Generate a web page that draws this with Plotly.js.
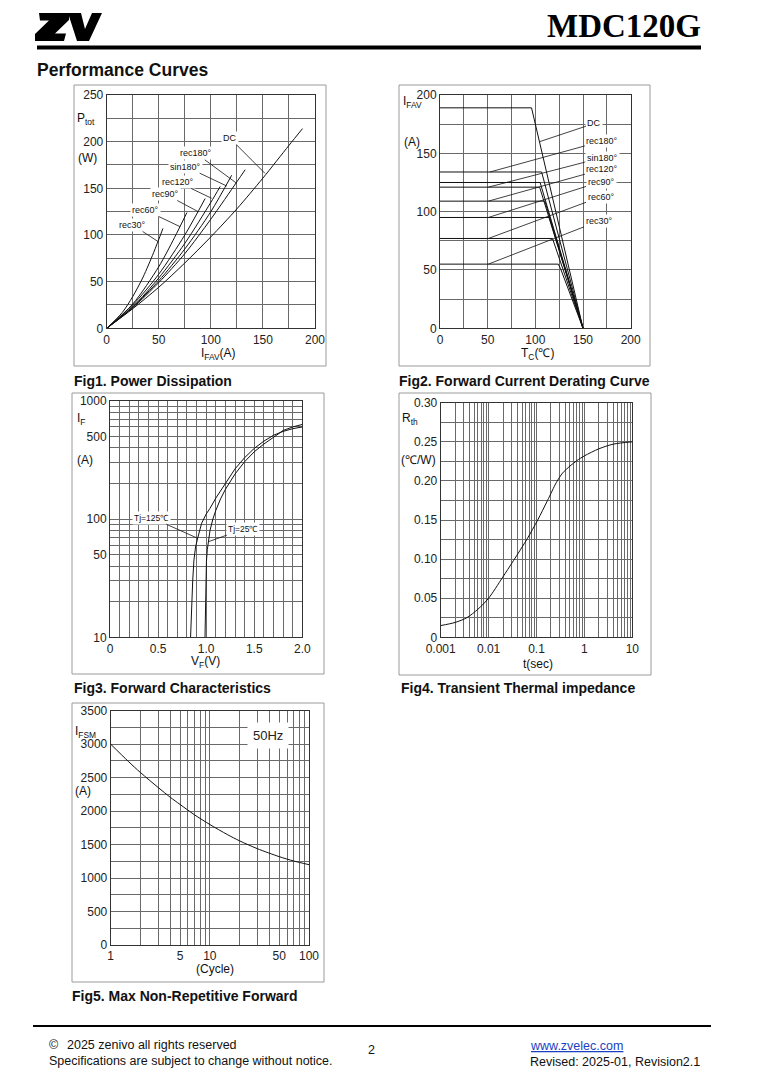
<!DOCTYPE html>
<html><head><meta charset="utf-8">
<script src="https://cdn.plot.ly/plotly-3.0.1.min.js"></script>
<style>html,body{margin:0;padding:0;background:#fff}#chart{width:763px;height:1080px}</style>
</head><body><div id="chart"></div>
<script>
// ---------------- DATA ----------------
// Fig1 Power dissipation (I_FAV [A] -> P_tot [W])
const fig1_DC_I = [0,25,50,75,100,125,150,175,188];
const fig1_DC_P = [0,21,44,70,98,128,161,196,214];
const fig1_rec180_I = [0,25,50,75,100,125,133];
const fig1_rec180_P = [0,22,49,80,117,157,170];
const fig1_sin180_I = [0,25,50,75,100,120];
const fig1_sin180_P = [0,23,51,85,125,164];
const fig1_rec120_I = [0,25,50,75,100,109];
const fig1_rec120_P = [0,23,54,91,135,152];
const fig1_rec90_I = [0,25,50,75,94.5];
const fig1_rec90_P = [0,25,58,100,139];
const fig1_rec60_I = [0,25,50,65,77];
const fig1_rec60_P = [0,26,66,97,124];
const fig1_rec30_I = [0,15,25,35,45,54];
const fig1_rec30_P = [0,17,34,55,81,107];

// Fig2 Forward current derating (T_C [°C] -> I_FAV [A])
const fig2_DC_T = [0,96,150];         const fig2_DC_I = [189,189,0];
const fig2_rec180_T = [0,106.6,150];  const fig2_rec180_I = [134,134,0];
const fig2_l125_T = [0,105,150];      const fig2_l125_I = [125,125,0];
const fig2_sin180_T = [0,104.5,150];  const fig2_sin180_I = [121,121,0];
const fig2_rec120_T = [0,110,150];    const fig2_rec120_I = [109,109,0];
const fig2_rec90_T = [0,114.7,150];   const fig2_rec90_I = [95,95,0];
const fig2_rec60_T = [0,118,150];     const fig2_rec60_I = [77,77,0];
const fig2_rec30_T = [0,124,126.5,150]; const fig2_rec30_I = [55,55,51,0];

// Fig3 Forward characteristics (V_F [V] -> I_F [A])
const fig3_T125_V = [0.838,0.843,0.85,0.86,0.873,0.89,0.912,0.93,0.953,1.0,1.04,1.1,1.18,1.3,1.4,1.5,1.6,1.7,1.8,1.9,2.0];
const fig3_T125_I = [10,14,20,30,45,58,69,80,92,110,123,150,188,265,330,395,455,510,550,580,600];
const fig3_T25_V = [0.988,0.99,0.993,0.997,1.003,1.012,1.023,1.04,1.07,1.1,1.15,1.2,1.3,1.4,1.5,1.6,1.7,1.8,1.9,2.0];
const fig3_T25_I = [10,15,22,32,44,55,65,80,100,118,148,178,240,305,370,430,490,560,600,630];

// Fig4 Transient thermal impedance (t [s] -> R_th [°C/W])
const fig4_t = [0.001,0.002,0.0035,0.006,0.01,0.0193,0.033,0.064,0.106,0.17,0.26,0.35,0.5,0.7,1,2,4,10];
const fig4_R = [0.015,0.019,0.025,0.036,0.050,0.076,0.098,0.126,0.150,0.175,0.198,0.210,0.219,0.226,0.232,0.241,0.247,0.250];

// Fig5 Max non-repetitive forward surge (cycles -> I_FSM [A])
const fig5_n = [1,1.5,2,3,4,5,7,10,15,20,30,50,70,100];
const fig5_I = [3000,2745,2575,2355,2205,2100,1945,1800,1650,1555,1440,1320,1255,1200];

// Tick values / labels
const fig1_xt = [0,25,50,75,100,125,150,175,200];
const fig1_xl = ['0','','50','','100','','150','','200'];
const fig1_yt = [0,25,50,75,100,125,150,175,200,225,250];
const fig1_yl = ['0','','50','','100','','150','','200','','250'];
const fig2_xt = [0,25,50,75,100,125,150,175,200];
const fig2_xl = ['0','','50','','100','','150','','200'];
const fig2_yt = [0,25,50,75,100,125,150,175,200];
const fig2_yl = ['0','','50','','100','','150','','200'];
const fig3_xt = [0,0.1,0.2,0.3,0.4,0.5,0.6,0.7,0.8,0.9,1.0,1.1,1.2,1.3,1.4,1.5,1.6,1.7,1.8,1.9,2.0];
const fig3_xl = ['0','','','','','0.5','','','','','1.0','','','','','1.5','','','','','2.0'];
const fig3_yt = [10,20,30,40,50,60,70,80,90,100,200,300,400,500,600,700,800,900,1000];
const fig3_yl = ['10','','','','50','','','','','100','','','','500','','','','','1000'];
const fig4_xt = [0.001,0.002,0.003,0.004,0.005,0.006,0.007,0.008,0.009,0.01,0.02,0.03,0.04,0.05,0.06,0.07,0.08,0.09,0.1,0.2,0.3,0.4,0.5,0.6,0.7,0.8,0.9,1,2,3,4,5,6,7,8,9,10];
const fig4_xl = ['0.001','','','','','','','','','0.01','','','','','','','','','0.1','','','','','','','','','1','','','','','','','','','10'];
const fig4_yt = [0,0.025,0.05,0.075,0.1,0.125,0.15,0.175,0.2,0.225,0.25,0.275,0.3];
const fig4_yl = ['0','','0.05','','0.10','','0.15','','0.20','','0.25','','0.30'];
const fig5_xt = [1,2,3,4,5,6,7,8,9,10,20,30,40,50,60,70,80,90,100];
const fig5_xl = ['1','','','','5','','','','','10','','','','50','','','','','100'];
const fig5_yt = [0,250,500,750,1000,1250,1500,1750,2000,2250,2500,2750,3000,3250,3500];
const fig5_yl = ['0','','500','','1000','','1500','','2000','','2500','','3000','','3500'];

// ---------------- BUILD ----------------
const W = 763, H = 1080;
const fx = x => x / W, fy = y => 1 - y / H;
const SANS = 'Liberation Sans, Arial, sans-serif';

function tr(x, y, n, shape) {
  return {x: x, y: y, xaxis: 'x' + (n > 1 ? n : ''), yaxis: 'y' + (n > 1 ? n : ''),
    mode: 'lines', line: {color: '#111', width: 1, shape: shape || 'linear', smoothing: 0.8},
    hoverinfo: 'skip', showlegend: false};
}
const data = [
  tr(fig1_DC_I, fig1_DC_P, 1, 'spline'), tr(fig1_rec180_I, fig1_rec180_P, 1, 'spline'),
  tr(fig1_sin180_I, fig1_sin180_P, 1, 'spline'), tr(fig1_rec120_I, fig1_rec120_P, 1, 'spline'),
  tr(fig1_rec90_I, fig1_rec90_P, 1, 'spline'), tr(fig1_rec60_I, fig1_rec60_P, 1, 'spline'),
  tr(fig1_rec30_I, fig1_rec30_P, 1, 'spline'),
  tr(fig2_DC_T, fig2_DC_I, 2), tr(fig2_rec180_T, fig2_rec180_I, 2), tr(fig2_l125_T, fig2_l125_I, 2),
  tr(fig2_sin180_T, fig2_sin180_I, 2), tr(fig2_rec120_T, fig2_rec120_I, 2), tr(fig2_rec90_T, fig2_rec90_I, 2),
  tr(fig2_rec60_T, fig2_rec60_I, 2), tr(fig2_rec30_T, fig2_rec30_I, 2),
  tr(fig3_T125_V, fig3_T125_I, 3), tr(fig3_T25_V, fig3_T25_I, 3),
  tr(fig4_t, fig4_R, 4, 'spline'),
  tr(fig5_n, fig5_I, 5, 'spline')
];

function ax(d0, d1, isY, anchor, vals, texts, extra) {
  return Object.assign({
    domain: isY ? [fy(d1), fy(d0)] : [fx(d0), fx(d1)], anchor: anchor,
    showline: true, mirror: true, linecolor: '#333', linewidth: 1,
    showgrid: true, gridcolor: '#6a6a6a', gridwidth: 1, zeroline: false,
    ticks: '', tickmode: 'array', tickvals: vals, ticktext: texts,
    tickfont: {family: SANS, size: 12, color: '#222'}, fixedrange: true
  }, extra || {});
}

const layout = {
  width: W, height: H, margin: {l: 0, r: 0, t: 0, b: 0},
  paper_bgcolor: '#fff', plot_bgcolor: '#fff', showlegend: false, hovermode: false,
  xaxis:  ax(106.7, 315, false, 'y', fig1_xt, fig1_xl, {range: [0, 200]}),
  yaxis:  ax(95, 328.3, true, 'x', fig1_yt, fig1_yl, {range: [0, 250]}),
  xaxis2: ax(440, 630.7, false, 'y2', fig2_xt, fig2_xl, {range: [0, 200]}),
  yaxis2: ax(95, 328.3, true, 'x2', fig2_yt, fig2_yl, {range: [0, 200]}),
  xaxis3: ax(110, 302.3, false, 'y3', fig3_xt, fig3_xl, {range: [0, 2]}),
  yaxis3: ax(400.7, 637.3, true, 'x3', fig3_yt, fig3_yl, {type: 'log', range: [1, 3]}),
  xaxis4: ax(440.7, 632.3, false, 'y4', fig4_xt, fig4_xl, {type: 'log', range: [-3, 1]}),
  yaxis4: ax(402.7, 637.3, true, 'x4', fig4_yt, fig4_yl, {range: [0, 0.3]}),
  xaxis5: ax(110.7, 309, false, 'y5', fig5_xt, fig5_xl, {type: 'log', range: [0, 2]}),
  yaxis5: ax(710.7, 945, true, 'x5', fig5_yt, fig5_yl, {range: [0, 3500]}),
  shapes: [], annotations: []
};

// page decorations
function rectPx(x0, y0, x1, y1, opt) {
  return Object.assign({type: 'rect', xref: 'paper', yref: 'paper', x0: fx(x0), x1: fx(x1), y0: fy(y1), y1: fy(y0),
    line: {color: '#9a9a9a', width: 1}}, opt || {});
}
function pathPx(pts) {
  return pts.map((p, i) => (i ? 'L' : 'M') + fx(p[0]).toFixed(5) + ',' + fy(p[1]).toFixed(5)).join(' ') + ' Z';
}
layout.shapes.push(
  rectPx(74, 85, 326, 366), rectPx(399, 85, 650, 366),
  rectPx(72, 393, 324, 674), rectPx(399, 393, 651, 675),
  rectPx(72, 703, 324, 982),
  rectPx(37, 45.5, 701, 49.5, {fillcolor: '#000', line: {width: 0}}),
  rectPx(33, 1025, 711, 1027, {fillcolor: '#000', line: {width: 0}}),
  {type: 'path', xref: 'paper', yref: 'paper', fillcolor: '#000', line: {width: 0},
   path: pathPx([[39,13],[69,13],[69,20],[55,33.5],[66,33.5],[64,41],[35,41],[35,34],[49,20.5],[40,20.5]])},
  {type: 'path', xref: 'paper', yref: 'paper', fillcolor: '#000', line: {width: 0},
   path: pathPx([[68,13],[81,13],[85,29],[92,13],[102,13],[89,41],[77,41]])}
);

function txt(text, x, y, opt) {
  return Object.assign({text: text, x: fx(x), y: fy(y), xref: 'paper', yref: 'paper', showarrow: false,
    xanchor: 'left', yanchor: 'middle', borderpad: 0, font: {family: SANS, size: 12, color: '#111'}}, opt || {});
}
const A = layout.annotations;
const CAP = {family: SANS, size: 14, color: '#111'};
const FOOT = {family: SANS, size: 12.5, color: '#111'};
A.push(
  txt('<b>MDC120G</b>', 702, 26, {xanchor: 'right', font: {family: 'Liberation Serif, Times New Roman, serif', size: 33, color: '#000'}}),
  txt('<b>Performance Curves</b>', 36, 70, {font: {family: SANS, size: 17.5, color: '#111'}}),
  txt('<b>Fig1. Power Dissipation</b>', 73, 381, {font: CAP}),
  txt('<b>Fig2. Forward Current Derating Curve</b>', 398, 381, {font: CAP}),
  txt('<b>Fig3. Forward Characteristics</b>', 73, 688, {font: CAP}),
  txt('<b>Fig4. Transient Thermal impedance</b>', 400, 688, {font: CAP}),
  txt('<b>Fig5. Max Non-Repetitive Forward</b>', 71, 996, {font: CAP}),
  // axis titles
  txt('P<sub>tot</sub>', 76, 119), txt('(W)', 77, 158),
  txt('I<sub>FAV</sub>(A)', 218, 354, {xanchor: 'center'}),
  txt('I<sub>FAV</sub>', 402, 102), txt('(A)', 403, 142),
  txt('T<sub>C</sub>(℃)', 537, 354, {xanchor: 'center'}),
  txt('I<sub>F</sub>', 76, 419), txt('(A)', 76, 460),
  txt('V<sub>F</sub>(V)', 205, 662, {xanchor: 'center'}),
  txt('R<sub>th</sub>', 401, 419), txt('(℃/W)', 400, 460),
  txt('t(sec)', 538, 664, {xanchor: 'center'}),
  txt('I<sub>FSM</sub>', 74, 732), txt('(A)', 74, 791),
  txt('(Cycle)', 215, 969, {xanchor: 'center'}),
  // footer
  txt('©', 48, 1045, {font: FOOT}),
  txt('2025 zenivo all rights reserved', 66, 1045, {font: FOOT}),
  txt('Specifications are subject to change without notice.', 48, 1061, {font: FOOT}),
  txt('2', 371, 1050, {xanchor: 'center', font: FOOT}),
  txt('<u>www.zvelec.com</u>', 529, 1046, {font: {family: SANS, size: 12.5, color: '#1a3fc0'}}),
  txt('Revised: 2025-01, Revision2.1', 529, 1062, {font: FOOT})
);

// in-plot labels with pointer lines (text at tail, head on the curve)
function lab(text, n, tx, ty, px, py, size) {
  const xr = 'x' + (n > 1 ? n : ''), yr = 'y' + (n > 1 ? n : '');
  return {text: text, xref: xr, yref: yr, axref: xr, ayref: yr, x: px, y: py, ax: tx, ay: ty,
    showarrow: true, arrowhead: 0, arrowwidth: 0.8, arrowcolor: '#111', standoff: 0, startstandoff: 0,
    bgcolor: '#fff', borderpad: 1, font: {family: SANS, size: size || 9, color: '#111'}};
}
A.push(
  lab('DC', 1, 118.4, 203.6, 152, 166),
  lab('rec180°', 1, 85.7, 187.5, 124.8, 155.4),
  lab('sin180°', 1, 76.1, 173.2, 115.2, 152.5),
  lab('rec120°', 1, 68.1, 156.8, 100.8, 139.3),
  lab('rec90°', 1, 56, 143.9, 88, 124.9),
  lab('rec60°', 1, 36.8, 126.8, 70.4, 108.9),
  lab('rec30°', 1, 25, 110.7, 49.5, 92.8),
  lab('DC', 2, 162, 175.7, 104.5, 160),
  lab('rec180°', 2, 170.3, 160.5, 52.4, 134),
  lab('sin180°', 2, 170.3, 146.3, 50.7, 121),
  lab('rec120°', 2, 170.3, 136.3, 50.7, 109),
  lab('rec90°', 2, 168.9, 125.7, 50.7, 95),
  lab('rec60°', 2, 168.9, 112.8, 50.7, 77),
  lab('rec30°', 2, 166.8, 92, 50.7, 55),
  lab('Tj=125℃', 3, 0.434, Math.log10(102.5), 0.912, Math.log10(68.7), 8.5),
  lab('Tj=25℃', 3, 1.387, Math.log10(81.9), 1.023, Math.log10(64.3), 8.5),
  {text: '50Hz', xref: 'x5', yref: 'y5', x: Math.log10(38.6), y: 3137, showarrow: false,
   bgcolor: '#fff', borderpad: 5, font: {family: SANS, size: 13, color: '#222'}}
);

Plotly.newPlot('chart', data, layout, {staticPlot: true, displayModeBar: false});
</script>
</body></html>
